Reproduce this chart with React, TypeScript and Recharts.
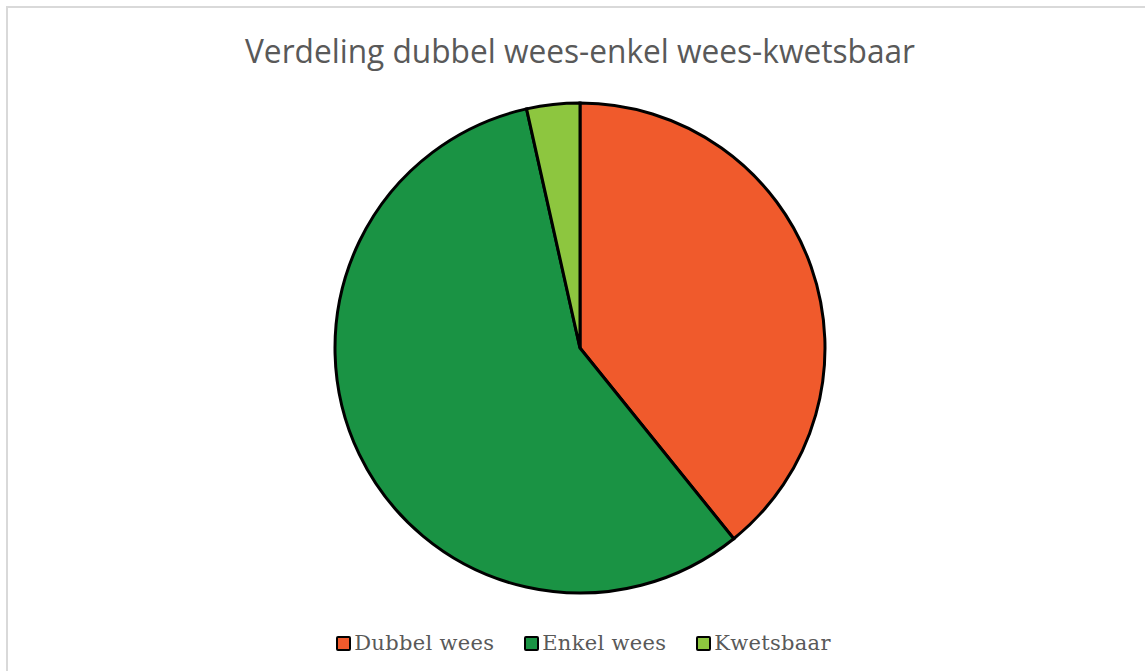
import React from 'react';
import { PieChart, Pie, Cell, Legend } from 'recharts';

const categories = ['Dubbel wees', 'Enkel wees', 'Kwetsbaar'];
const shares = [39.2, 57.3, 3.5];
const colors = ['#F05A2C', '#1A9344', '#8DC63F'];

const chartData = categories.map((name, i) => ({ name, value: shares[i] }));

const LegendContent = () => (
  <div
    style={{
      display: 'flex',
      justifyContent: 'center',
      alignItems: 'center',
      gap: 30,
      fontFamily: '"DejaVu Serif", serif',
      fontSize: 21,
      letterSpacing: 0.3,
      color: '#595959',
    }}
  >
    {categories.map((name, i) => (
      <div key={name} style={{ display: 'flex', alignItems: 'center' }}>
        <span
          style={{
            display: 'inline-block',
            width: 11,
            height: 11,
            background: colors[i],
            border: '2px solid #000',
            borderRadius: 2,
            marginRight: 3,
          }}
        />
        <span>{name}</span>
      </div>
    ))}
  </div>
);

const App: React.FC = () => {
  return (
    <div style={{ position: 'absolute', left: 0, top: 0, width: 1145, height: 671, overflow: 'hidden', background: '#fff' }}>
      <div
        style={{
          position: 'absolute',
          left: 6,
          top: 6,
          width: 1160,
          height: 700,
          borderTop: '2px solid #D9D9D9',
          borderLeft: '2px solid #D9D9D9',
        }}
      />
      <svg style={{ position: 'absolute', left: 0, top: 0 }} width={1145} height={90}>
        <text
          x={580}
          y={63}
          textAnchor="middle"
          fill="#595959"
          fontSize={33}
          fontFamily='"Open Sans", sans-serif'
          textLength={670}
          lengthAdjust="spacingAndGlyphs"
        >
          Verdeling dubbel wees-enkel wees-kwetsbaar
        </text>
      </svg>
      <div style={{ position: 'absolute', left: 0, top: 0 }}>
        <PieChart width={1145} height={671} margin={{ top: 0, right: 0, bottom: 0, left: 0 }}>
          <Pie
            data={chartData}
            dataKey="value"
            nameKey="name"
            cx={580}
            cy={348}
            outerRadius={245}
            startAngle={90}
            endAngle={-270}
            stroke="#000"
            strokeWidth={3}
            isAnimationActive={false}
          >
            {chartData.map((d, i) => (
              <Cell key={d.name} fill={colors[i]} />
            ))}
          </Pie>
          <Legend
            content={<LegendContent />}
            wrapperStyle={{ position: 'absolute', top: 631, left: 0, width: 1167 }}
          />
        </PieChart>
      </div>
    </div>
  );
};

export default App;
